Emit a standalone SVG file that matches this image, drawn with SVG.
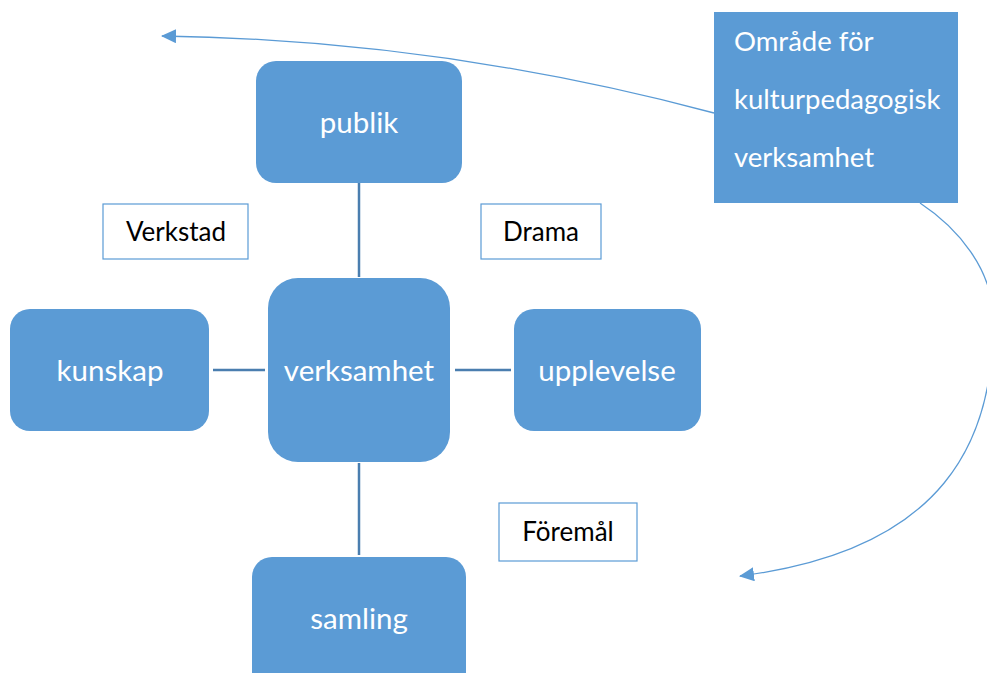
<svg xmlns="http://www.w3.org/2000/svg" width="987" height="673" viewBox="0 0 987 673">
  <style>
    .node { fill: #5B9BD5; }
    .node-text { fill: #ffffff; font-family: Lato, "Open Sans", sans-serif; font-size: 29.5px; text-anchor: middle; dominant-baseline: central; }
    .area-text { fill: #ffffff; font-family: Lato, "Open Sans", sans-serif; font-size: 27.5px; }
    .label-box { fill: #ffffff; stroke: #5B9BD5; stroke-width: 1.2; }
    .label-text { fill: #000000; font-family: Lato, "Open Sans", sans-serif; font-size: 26px; text-anchor: middle; dominant-baseline: central; }
    .link { stroke: #4A7EAF; stroke-width: 2.5; fill: none; }
    .curve { stroke: #5B9BD5; stroke-width: 1.3; fill: none; marker-end: url(#arrow); }
  </style>
  <defs>
    <marker id="arrow" markerUnits="userSpaceOnUse" markerWidth="16" markerHeight="14" refX="14" refY="7" orient="auto">
      <path d="M0,0 L15,7 L0,14 Z" fill="#5B9BD5"/>
    </marker>
  </defs>
  <rect width="987" height="673" fill="#ffffff"/>

  <!-- connectors -->
  <g id="connectors">
    <line class="link" x1="359" y1="183" x2="359" y2="277"/>
    <line class="link" x1="359" y1="463" x2="359" y2="555"/>
    <line class="link" x1="213" y1="370" x2="265" y2="370"/>
    <line class="link" x1="455" y1="370" x2="511" y2="370"/>
    <path class="curve" d="M714,113 Q440,40 162,36"/>
    <path class="curve" d="M920,203 C958,228 993,270 993,318 C995,440 945,550 740,576"/>
  </g>

  <g id="publik">
    <rect class="node" x="256" y="61" width="206" height="122" rx="20"/>
    <text class="node-text" x="359" y="121">publik</text>
  </g>
  <g id="verksamhet">
    <rect class="node" x="268" y="278" width="182" height="184" rx="30"/>
    <text class="node-text" x="359" y="369">verksamhet</text>
  </g>
  <g id="kunskap">
    <rect class="node" x="10" y="309" width="199" height="122" rx="20"/>
    <text class="node-text" x="110" y="369">kunskap</text>
  </g>
  <g id="upplevelse">
    <rect class="node" x="514" y="309" width="187" height="122" rx="20"/>
    <text class="node-text" x="607" y="369">upplevelse</text>
  </g>
  <g id="samling">
    <rect class="node" x="252" y="557" width="214" height="140" rx="20"/>
    <text class="node-text" x="359" y="617">samling</text>
  </g>

  <g id="omrade">
    <rect class="node" x="714" y="12" width="244" height="191"/>
    <text class="area-text" x="734" y="51">Område för</text>
    <text class="area-text" x="734" y="109">kulturpedagogisk</text>
    <text class="area-text" x="734" y="167">verksamhet</text>
  </g>

  <g id="verkstad">
    <rect class="label-box" x="103" y="204" width="145" height="55"/>
    <text class="label-text" x="176" y="231">Verkstad</text>
  </g>
  <g id="drama">
    <rect class="label-box" x="481" y="204" width="120" height="55"/>
    <text class="label-text" x="541" y="231">Drama</text>
  </g>
  <g id="foremal">
    <rect class="label-box" x="499" y="503" width="138" height="58"/>
    <text class="label-text" x="568" y="531">Föremål</text>
  </g>
</svg>
